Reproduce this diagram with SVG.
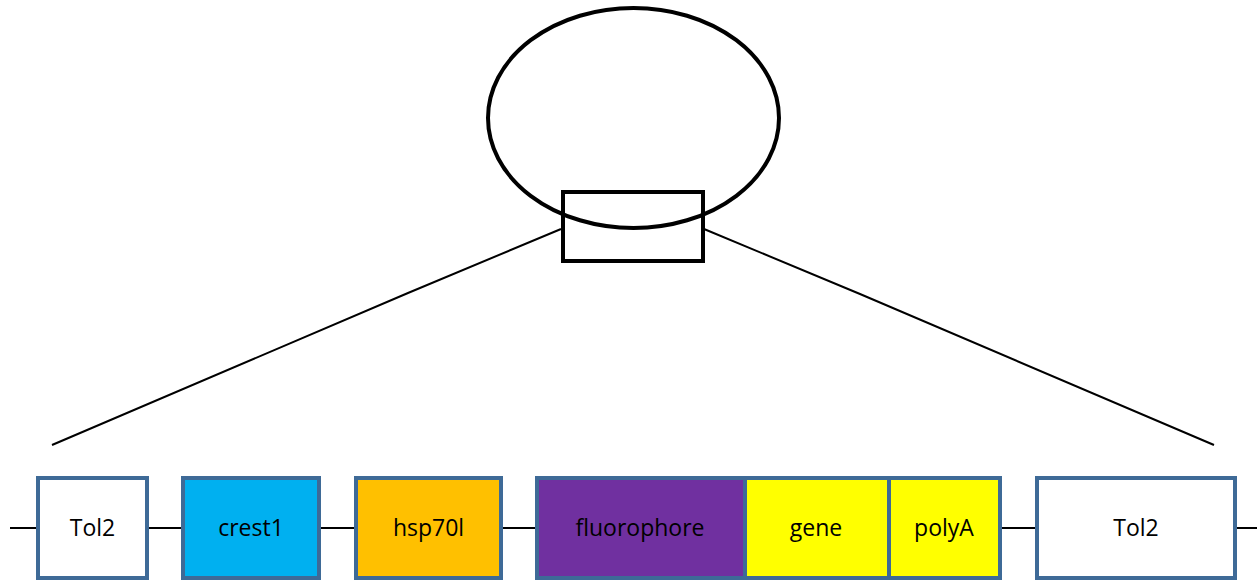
<svg xmlns="http://www.w3.org/2000/svg" width="1257" height="580" viewBox="0 0 1257 580">
  <style>
    .outline { fill: none; stroke: #000; stroke-width: 4; }
    .zoomline { fill: none; stroke: #000; stroke-width: 2; }
    .link { stroke: #000; stroke-width: 2; }
    .part { stroke: #3E6A97; stroke-width: 4; }
    .label { font-family: "Open Sans", "Liberation Sans", sans-serif; font-size: 23px; fill: #000; text-anchor: middle; dominant-baseline: central; }
  </style>
  <rect width="1257" height="580" fill="#fff"/>

  <!-- plasmid and highlighted region -->
  <g id="plasmid">
    <ellipse class="outline" cx="633.5" cy="118" rx="145.5" ry="110"/>
  </g>
  <g id="region">
    <rect class="outline" x="563" y="192" width="140" height="69"/>
  </g>

  <!-- connectors: zoom-out lines and backbone segments -->
  <g id="connectors">
    <polyline class="zoomline" points="561,229 408,293 52,445"/>
    <polyline class="zoomline" points="704,229 860,294 1214,445"/>
    <line class="link" x1="10" y1="528" x2="38" y2="528"/>
    <line class="link" x1="148" y1="528" x2="183" y2="528"/>
    <line class="link" x1="319" y1="528" x2="356" y2="528"/>
    <line class="link" x1="501" y1="528" x2="537" y2="528"/>
    <line class="link" x1="1000" y1="528" x2="1037" y2="528"/>
    <line class="link" x1="1235" y1="528" x2="1257" y2="528"/>
  </g>

  <g id="tol2-left">
    <rect class="part" x="38" y="478" width="109" height="100" fill="#fff"/>
    <text class="label" x="92.5" y="527">Tol2</text>
  </g>
  <g id="crest1">
    <rect class="part" x="183" y="478" width="136" height="100" fill="#00B0F0"/>
    <text class="label" x="251" y="527">crest1</text>
  </g>
  <g id="hsp70l">
    <rect class="part" x="356" y="478" width="145" height="100" fill="#FFC000"/>
    <text class="label" x="428.5" y="527">hsp70l</text>
  </g>
  <g id="fluorophore">
    <rect class="part" x="537" y="478" width="208" height="100" fill="#7030A0"/>
    <text class="label" x="640" y="527">fluorophore</text>
  </g>
  <g id="gene">
    <rect class="part" x="745" y="478" width="144" height="100" fill="#FFFF00"/>
    <text class="label" x="816" y="527">gene</text>
  </g>
  <g id="polyA">
    <rect class="part" x="889" y="478" width="111" height="100" fill="#FFFF00"/>
    <text class="label" x="944" y="527">polyA</text>
  </g>
  <g id="tol2-right">
    <rect class="part" x="1037" y="478" width="198" height="100" fill="#fff"/>
    <text class="label" x="1136" y="527">Tol2</text>
  </g>
</svg>
